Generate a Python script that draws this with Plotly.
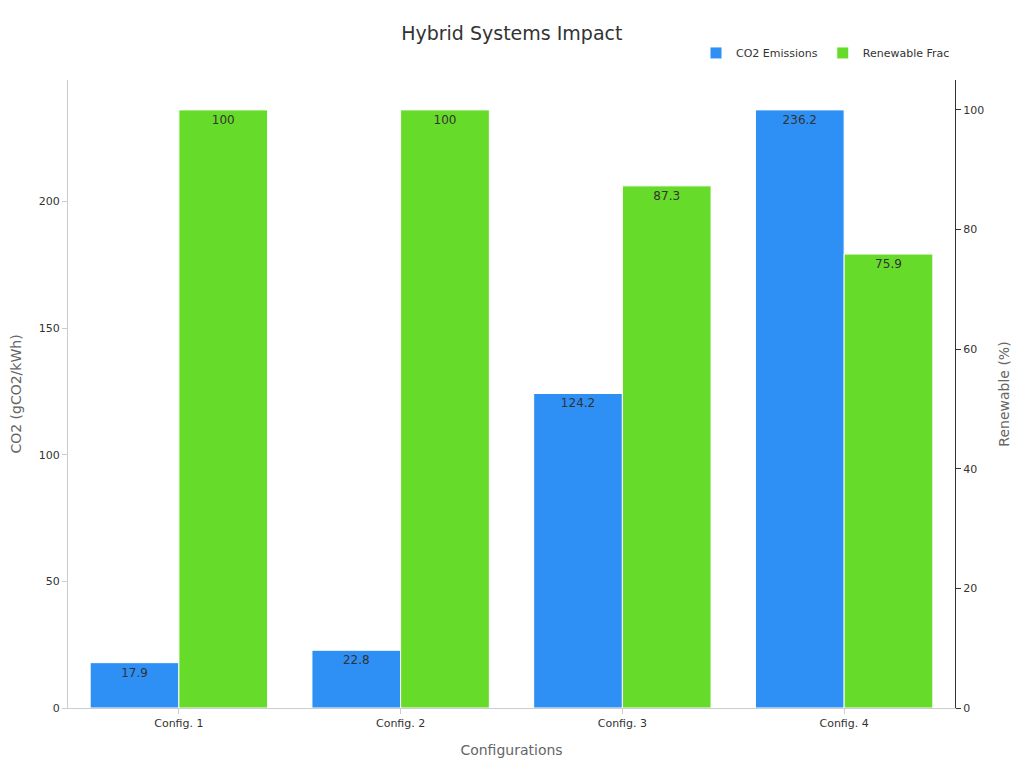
import plotly.graph_objects as go

configs = ["Config. 1", "Config. 2", "Config. 3", "Config. 4"]
co2 = [17.9, 22.8, 124.2, 236.2]
renewable = [100, 100, 87.3, 75.9]

fig = go.Figure()
fig.add_trace(go.Bar(x=configs, y=co2, name="CO2 Emissions", marker_color="#2e90f5",
                     marker_line=dict(color="white", width=1),
                     text=co2, textposition="inside", insidetextanchor="end",
                     textfont=dict(color="#333", size=12), offsetgroup=0, yaxis="y"))
fig.add_trace(go.Bar(x=configs, y=renewable, name="Renewable Frac", marker_color="#67db29",
                     marker_line=dict(color="white", width=1),
                     text=renewable, textposition="inside", insidetextanchor="end",
                     textfont=dict(color="#333", size=12), offsetgroup=1, yaxis="y2"))

fig.update_layout(
    width=1024, height=768, plot_bgcolor="white", paper_bgcolor="white",
    font=dict(family="DejaVu Sans", color="#333", size=11),
    title=dict(text="Hybrid Systems Impact", x=0.492, xanchor="center", y=0.976,
               font=dict(size=19, color="#333")),
    barmode="group", bargap=0.2, bargroupgap=0,
    margin=dict(l=60, r=77, t=72, b=68, autoexpand=False),
    legend=dict(orientation="h", x=1.0, xanchor="right", y=1.02, yanchor="bottom",
                font=dict(size=11)),
    xaxis=dict(title=dict(text="Configurations", font=dict(color="#666", size=14), standoff=15),
               showline=True, linecolor="#ccc", ticks="outside", tickcolor="#ccc",
               automargin=False),
    yaxis=dict(title=dict(text="CO2 (gCO2/kWh)", font=dict(color="#666", size=14), standoff=20),
               range=[0, 248], tickvals=[0, 50, 100, 150, 200], showgrid=False,
               showline=True, linecolor="#ccc", ticks="outside", tickcolor="#ccc",
               zeroline=False, automargin=False),
    yaxis2=dict(title=dict(text="Renewable (%)", font=dict(color="#666", size=14), standoff=15),
                overlaying="y", side="right", range=[0, 105], tickvals=[0, 20, 40, 60, 80, 100],
                showgrid=False, showline=True, linecolor="#333", ticks="outside",
                tickcolor="#333", zeroline=False, automargin=False),
)
fig.write_html("out.html")
